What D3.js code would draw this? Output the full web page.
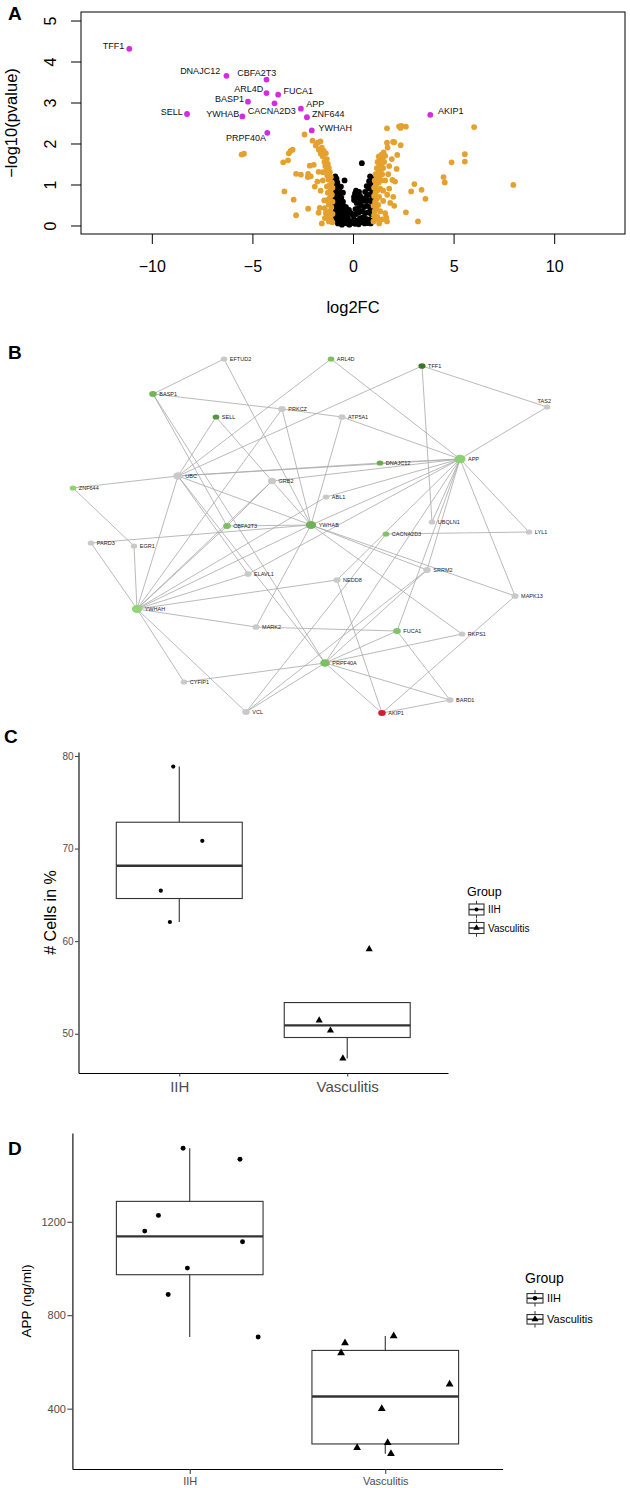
<!DOCTYPE html>
<html>
<head>
<meta charset="utf-8">
<script src="https://cdn.jsdelivr.net/npm/d3@7"></script>
<style>
  body { margin: 0; background: #fff; }
  text { font-family: "Liberation Sans", Arial, Helvetica, sans-serif; }
</style>
</head>
<body>
<svg id="fig" width="630" height="1488"></svg>
<script>
// ---------- panel A: volcano plot ----------
const sigGenes = ["TFF1", "DNAJC12", "CBFA2T3", "ARL4D", "FUCA1", "BASP1", "CACNA2D3", "APP",
    "SELL", "YWHAB", "ZNF644", "YWHAH", "PRPF40A", "AKIP1"];
const sigFC = [-11.12, -6.29, -4.30, -4.30, -3.72, -5.22, -3.90, -2.59, -8.25, -5.50, -2.29, -2.05, -4.26, 3.84];
const sigP = [4.31, 3.65, 3.56, 3.23, 3.19, 3.02, 2.98, 2.85, 2.72, 2.66, 2.64, 2.32, 2.26, 2.70];

// |log2FC| > 1 but not significant
const orangePts = [
    [-5.54, 1.73], [-5.42, 1.75],
    [-2.41, 2.22], [-2.01, 2.07], [-1.75, 2.02], [-1.62, 2.05], [-1.85, 1.95], [-1.55, 1.9], [-1.7, 1.85],
    [-1.45, 1.82], [-1.6, 1.75], [-1.35, 1.76], [-1.5, 1.68], [-1.3, 1.62], [-1.42, 1.55], [-1.25, 1.5],
    [-1.38, 1.45], [-1.2, 1.4], [-1.32, 1.35], [-1.15, 1.3], [-1.28, 1.22], [-1.1, 1.18], [-1.22, 1.12],
    [-1.05, 1.05], [-1.18, 0.98], [-1.02, 0.92], [-1.12, 0.85], [-1.25, 0.8], [-1.05, 0.75], [-1.15, 0.68],
    [-1.3, 0.62], [-1.02, 0.58], [-1.2, 0.52], [-1.08, 0.45], [-1.4, 0.42], [-1.15, 0.35], [-1.02, 0.28],
    [-1.25, 0.22], [-1.1, 0.15], [-1.2, 0.1], [-1.03, 0.08], [-1.35, 0.3],
    [-3.1, 1.82], [-3.0, 1.85], [-3.19, 1.76], [-3.47, 1.54], [-3.23, 1.59], [-2.83, 1.26], [-2.59, 1.24],
    [-2.15, 1.46], [-1.95, 1.48], [-2.23, 1.26], [-1.71, 1.31], [-2.25, 1.18], [-2.1, 1.2], [-3.41, 0.83],
    [-1.77, 1.07], [-1.61, 0.85], [-2.95, 0.63], [-2.23, 0.41], [-2.83, 0.25], [-1.65, 0.43], [-1.71, 0.31],
    [-1.43, 0.61], [-1.9, 0.95], [-1.5, 1.1], [-1.4, 0.18], [-1.55, 0.05], [-1.3, 0.95], [-1.5, 1.3],
    [1.02, 0.1], [1.1, 0.18], [1.05, 0.25], [1.2, 0.22], [1.08, 0.35], [1.15, 0.42], [1.02, 0.48], [1.25, 0.5],
    [1.1, 0.58], [1.18, 0.65], [1.05, 0.72], [1.3, 0.7], [1.12, 0.8], [1.22, 0.86], [1.05, 0.92], [1.35, 0.9],
    [1.15, 1.0], [1.28, 1.05], [1.08, 1.1], [1.4, 1.1], [1.2, 1.15], [1.32, 1.2], [1.12, 1.25], [1.45, 1.25],
    [1.25, 1.3], [1.38, 1.35], [1.18, 1.4], [1.5, 1.4], [1.3, 1.45], [1.42, 1.5], [1.22, 1.55], [1.55, 1.55],
    [1.35, 1.6], [1.48, 1.65], [1.28, 1.68], [1.6, 1.7], [1.4, 1.72], [1.52, 1.78], [1.35, 0.35], [1.5, 0.6],
    [1.45, 0.15], [1.6, 0.3], [1.3, 0.05], [1.5, 0.85], [1.6, 1.1], [1.25, 0.15],
    [1.69, 2.37], [2.29, 2.42], [2.36, 2.38], [2.63, 2.41], [2.41, 2.43], [1.69, 2.02], [1.99, 2.04],
    [2.05, 2.03], [2.37, 1.96], [1.93, 1.62], [2.17, 1.38], [1.96, 1.11], [2.09, 1.07], [3.05, 1.01],
    [2.89, 0.83], [3.41, 0.87], [3.6, 0.65], [2.63, 0.32], [3.23, 0.1], [1.69, 0.1], [2.05, 0.48],
    [4.5, 1.18], [4.56, 1.05], [4.9, 1.54], [5.56, 1.74], [5.56, 1.56], [6.02, 2.40], [7.97, 0.99],
    [1.8, 0.9], [1.75, 1.25], [2.0, 0.7], [1.85, 0.55], [1.7, 0.75], [1.65, 0.2], [1.8, 1.45], [2.2, 1.72],
    [1.72, 1.9]
];

// |log2FC| <= 1
const blackPts = [
    [-0.95, 1.08], [-0.88, 1.2], [-0.82, 1.14], [-0.9, 0.98], [-0.78, 1.05], [-0.72, 0.96], [-0.85, 0.9],
    [-0.95, 0.85], [-0.68, 0.88], [-0.8, 0.8], [-0.62, 0.78], [-0.9, 0.74], [-0.74, 0.7], [-0.58, 0.68],
    [-0.85, 0.64], [-0.66, 0.6], [-0.5, 0.58], [-0.78, 0.55], [-0.6, 0.5], [-0.9, 0.5], [-0.45, 0.47],
    [-0.7, 0.44], [-0.55, 0.4], [-0.84, 0.38], [-0.4, 0.36], [-0.65, 0.33], [-0.48, 0.3], [-0.78, 0.28],
    [-0.32, 0.28], [-0.58, 0.24], [-0.9, 0.2], [-0.42, 0.2], [-0.7, 0.18], [-0.25, 0.18], [-0.52, 0.14],
    [-0.82, 0.12], [-0.35, 0.12], [-0.62, 0.08], [-0.15, 0.1], [-0.45, 0.06], [-0.75, 0.05], [-0.28, 0.05],
    [-0.05, 0.06], [-0.55, 0.02], [-0.18, 0.02], [0.05, 0.15], [0.1, 0.04], [0.2, 0.12], [0.28, 0.03],
    [0.35, 0.18], [0.42, 0.08], [0.5, 0.2], [0.58, 0.05], [0.65, 0.16], [0.72, 0.06], [0.8, 0.14],
    [0.88, 0.05], [0.95, 0.12], [0.0, 0.25], [0.15, 0.28], [-0.1, 0.3], [0.3, 0.32], [0.45, 0.35],
    [0.6, 0.3], [0.75, 0.32], [0.9, 0.28], [0.55, 0.45], [0.7, 0.48], [0.85, 0.44], [0.4, 0.5],
    [0.62, 0.6], [0.78, 0.62], [0.92, 0.58], [0.5, 0.66], [0.7, 0.74], [0.86, 0.76], [0.6, 0.82],
    [0.95, 0.86], [0.78, 0.9], [0.68, 0.96], [0.88, 1.0], [0.8, 1.08], [0.92, 1.15], [0.85, 1.2],
    [0.44, 1.52], [-0.42, 1.1], [0.1, 0.78], [0.22, 0.68], [0.3, 0.82], [0.05, 0.62], [0.18, 0.55],
    [0.25, 0.42], [-0.2, 0.38], [0.12, 0.4], [0.38, 0.6], [-0.35, 0.45], [0.05, 0.7], [0.15, 0.85],
    [0.35, 0.72], [-0.96, 0.3], [-0.98, 0.6], [0.98, 0.4], [0.98, 0.7], [-0.6, 0.95], [-0.5, 0.8]
];

const volcanoXTicks = [-10, -5, 0, 5, 10];
const volcanoYTicks = [0, 1, 2, 3, 4, 5];

// ---------- panel B: network ----------
// [name, layout x, layout y]
const netNodes = [
    ["EFTUD2", 154, 4], ["ARL4D", 261, 4], ["TFF1", 352, 11], ["BASP1", 83, 39], ["TAS2", 477, 52],
    ["PRKCZ", 212, 54], ["SELL", 146, 62], ["ATP5A1", 272, 62], ["APP", 390, 104], ["DNAJC12", 310, 108],
    ["UBC", 108, 121], ["GRB2", 202, 126], ["ZNF644", 3, 133], ["ABL1", 256, 142], ["UBQLN1", 362, 167],
    ["YWHAB", 241, 170], ["CBFA2T3", 157, 171], ["LYL1", 459, 177], ["CACNA2D3", 316, 179], ["PARD3", 21, 188],
    ["EGR1", 64, 191], ["SRRM2", 357, 215], ["ELAVL1", 178, 219], ["NEDD8", 267, 225], ["MAPK13", 445, 241],
    ["YWHAH", 67, 254], ["MARK2", 186, 272], ["FUCA1", 327, 276], ["RKPS1", 392, 279], ["PRPF40A", 255, 308],
    ["CYFIP1", 114, 327], ["BARD1", 380, 345], ["VCL", 176, 357], ["AKIP1", 312, 358]
];
const netEdges = [
    ["EFTUD2", "BASP1"], ["EFTUD2", "YWHAB"], ["ARL4D", "UBC"], ["ARL4D", "APP"],
    ["TFF1", "TAS2"], ["TFF1", "UBQLN1"], ["TFF1", "UBC"], ["BASP1", "PRKCZ"], ["PRKCZ", "ATP5A1"],
    ["BASP1", "CBFA2T3"], ["BASP1", "PRPF40A"], ["SELL", "UBC"], ["SELL", "GRB2"], ["GRB2", "YWHAB"],
    ["TAS2", "APP"], ["ATP5A1", "APP"], ["ATP5A1", "YWHAB"], ["PRKCZ", "YWHAB"], ["PRKCZ", "YWHAH"],
    ["UBC", "ZNF644"], ["UBC", "APP"], ["UBC", "DNAJC12"], ["UBC", "YWHAB"], ["UBC", "YWHAH"],
    ["UBC", "PRPF40A"], ["UBC", "ELAVL1"], ["GRB2", "APP"], ["GRB2", "YWHAH"], ["ZNF644", "EGR1"],
    ["DNAJC12", "APP"], ["ABL1", "APP"], ["ABL1", "YWHAH"], ["YWHAB", "APP"], ["YWHAB", "CBFA2T3"],
    ["YWHAB", "PARD3"], ["YWHAB", "SRRM2"], ["YWHAB", "MAPK13"], ["YWHAB", "RKPS1"], ["YWHAB", "MARK2"],
    ["YWHAB", "YWHAH"], ["CBFA2T3", "GRB2"], ["CBFA2T3", "YWHAH"], ["CACNA2D3", "LYL1"], ["CACNA2D3", "VCL"],
    ["APP", "LYL1"], ["APP", "MAPK13"], ["APP", "SRRM2"], ["APP", "FUCA1"], ["APP", "PRPF40A"],
    ["APP", "UBQLN1"], ["APP", "NEDD8"], ["SRRM2", "PRPF40A"], ["SRRM2", "VCL"], ["NEDD8", "YWHAH"],
    ["NEDD8", "AKIP1"], ["MAPK13", "AKIP1"], ["YWHAH", "PARD3"], ["YWHAH", "EGR1"], ["YWHAH", "ELAVL1"],
    ["YWHAH", "MARK2"], ["YWHAH", "CYFIP1"], ["YWHAH", "VCL"], ["MARK2", "FUCA1"], ["FUCA1", "PRPF40A"],
    ["FUCA1", "BARD1"], ["RKPS1", "PRPF40A"], ["PRPF40A", "CYFIP1"], ["PRPF40A", "VCL"], ["PRPF40A", "BARD1"],
    ["PRPF40A", "AKIP1"], ["BARD1", "AKIP1"], ["ELAVL1", "APP"]
];

// ---------- panels C and D: boxplots ----------
const groups = ["IIH", "Vasculitis"];
const cellsIIH = [78.85, 70.84, 65.45, 62.07];
const cellsVasc = [51.45, 50.35, 47.34, 59.13];
const cellsJitterIIH = [-0.036, 0.137, -0.11, -0.056];
const cellsJitterVasc = [-0.167, -0.10, -0.026, 0.131];
const cellsTicks = [50, 60, 70, 80];

const appIIH = [1514.6, 1467.4, 1227.3, 1160.1, 1114.3, 1001.6, 888.9, 707.0];
const appVasc = [711.4, 681.4, 638.6, 504.3, 400.0, 254.3, 232.9, 207.1];
const appJitterIIH = [-0.034, 0.257, -0.16, -0.23, 0.27, -0.012, -0.11, 0.35];
const appJitterVasc = [0.043, -0.206, -0.226, 0.329, -0.018, 0.012, -0.144, 0.029];
const appTicks = [400, 800, 1200];

// ================================================================
const svg = d3.select("#fig");
svg.append("rect").attr("width", 630).attr("height", 1488).attr("fill", "#fff");

function panelLetter(txt, x, y) {
    svg.append("text").attr("x", x).attr("y", y).text(txt)
        .attr("font-size", 19).attr("font-weight", "bold").attr("fill", "#000");
}

// ---------- A ----------
const gA = svg.append("g");
const xA = d3.scaleLinear().domain([-13.52, 13.52]).range([81, 625]);
const yA = d3.scaleLinear().domain([-0.208, 5.208]).range([234, 12]);

gA.selectAll("circle.bk").data(blackPts).join("circle").attr("class", "bk")
    .attr("cx", d => xA(d[0])).attr("cy", d => yA(d[1])).attr("r", 2.9).attr("fill", "#000");
gA.selectAll("circle.or").data(orangePts).join("circle").attr("class", "or")
    .attr("cx", d => xA(d[0])).attr("cy", d => yA(d[1])).attr("r", 2.9).attr("fill", "#e5a12e");
gA.selectAll("circle.sig").data(sigGenes).join("circle").attr("class", "sig")
    .attr("cx", (d, i) => xA(sigFC[i])).attr("cy", (d, i) => yA(sigP[i])).attr("r", 2.9).attr("fill", "#d42be2");

//  where each gene label sits, relative to its point
const labelPlace = {
    TFF1: ["end", -5, -2.7], DNAJC12: ["end", -6.3, -5.3], CBFA2T3: ["middle", -9.7, -6.3],
    ARL4D: ["end", -3.3, -4], FUCA1: ["start", 5.3, -4.3], BASP1: ["end", -4, -2.7],
    CACNA2D3: ["middle", -2.7, 7.7], APP: ["start", 5.3, -5.3], ZNF644: ["start", 5, -3.3],
    YWHAH: ["start", 6.7, -2.7], SELL: ["end", -4.3, -1.7], YWHAB: ["end", -3, -2.3],
    PRPF40A: ["end", -1.3, 5.3], AKIP1: ["start", 7.7, -4]
};
gA.selectAll("text.gl").data(sigGenes).join("text").attr("class", "gl")
    .attr("x", (d, i) => xA(sigFC[i]) + labelPlace[d][1])
    .attr("y", (d, i) => yA(sigP[i]) + labelPlace[d][2])
    .attr("dy", "0.35em").attr("text-anchor", d => labelPlace[d][0])
    .attr("font-size", 9).attr("fill", "#111").text(d => d);

gA.append("rect").attr("x", 81).attr("y", 12).attr("width", 544).attr("height", 222)
    .attr("fill", "none").attr("stroke", "#000").attr("stroke-width", 1);

const axAx = gA.append("g").attr("transform", "translate(0,234)")
    .call(d3.axisBottom(xA).tickValues(volcanoXTicks).tickSize(10).tickPadding(17)
        .tickFormat(d => d < 0 ? "\u2212" + (-d) : String(d)));
axAx.select(".domain").remove();
axAx.selectAll("line").attr("stroke", "#000");
axAx.selectAll("text").attr("font-size", 16).attr("fill", "#000").attr("font-family", null);

const axAy = gA.append("g").attr("transform", "translate(81,0)")
    .call(d3.axisLeft(yA).tickValues(volcanoYTicks).tickSize(10).tickFormat(d3.format("d")));
axAy.select(".domain").remove();
axAy.selectAll("line").attr("stroke", "#000");
axAy.selectAll("text").attr("x", null).attr("dy", null)
    .attr("transform", "translate(-25,0) rotate(-90)").attr("text-anchor", "middle")
    .attr("font-size", 16).attr("fill", "#000").attr("font-family", null);

gA.append("text").attr("transform", "translate(16.5,123) rotate(-90)").attr("text-anchor", "middle")
    .attr("font-size", 16.5).text("\u2212log10(pvalue)");
gA.append("text").attr("x", 353).attr("y", 313).attr("text-anchor", "middle")
    .attr("font-size", 16.5).text("log2FC");
panelLetter("A", 8, 20);

// ---------- B ----------
const gB = svg.append("g");
const xB = d3.scaleLinear().domain([0, 480]).range([70, 550]);
const yB = d3.scaleLinear().domain([0, 360]).range([355, 715]);
const nodeByName = new Map(netNodes.map(n => [n[0], n]));
const degree = new Map(netNodes.map(n => [n[0], 0]));
netEdges.forEach(e => { degree.set(e[0], degree.get(e[0]) + 1); degree.set(e[1], degree.get(e[1]) + 1); });
const fcByGene = new Map(sigGenes.map((g, i) => [g, sigFC[i]]));
const greenScale = d3.scaleLinear().domain([-11.1, -2.0]).range(["#3b7826", "#92d676"]);
const sizeScale = d3.scaleSqrt().domain([1, 16]).range([2.6, 4.8]).clamp(true);

function nodeColor(name) {
    if (!fcByGene.has(name)) return "#c9c9c9";
    const fc = fcByGene.get(name);
    return fc > 0 ? "#d0202f" : greenScale(fc);
}

gB.selectAll("line").data(netEdges).join("line")
    .attr("x1", d => xB(nodeByName.get(d[0])[1])).attr("y1", d => yB(nodeByName.get(d[0])[2]))
    .attr("x2", d => xB(nodeByName.get(d[1])[1])).attr("y2", d => yB(nodeByName.get(d[1])[2]))
    .attr("stroke", "#a8a8a8").attr("stroke-width", 0.8);

gB.selectAll("ellipse").data(netNodes).join("ellipse")
    .attr("cx", d => xB(d[1])).attr("cy", d => yB(d[2]))
    .attr("rx", d => sizeScale(degree.get(d[0])) * 1.15).attr("ry", d => sizeScale(degree.get(d[0])) * 0.9)
    .attr("fill", d => nodeColor(d[0]));

gB.selectAll("text.nl").data(netNodes).join("text").attr("class", "nl")
    .attr("x", d => d[0] === "TAS2" ? xB(d[1]) - 2.7 : xB(d[1]) + sizeScale(degree.get(d[0])) * 1.15 + 2.5)
    .attr("y", d => d[0] === "TAS2" ? yB(d[2]) - 5.7 : yB(d[2]))
    .attr("dy", "0.35em").attr("text-anchor", d => d[0] === "TAS2" ? "middle" : "start")
    .attr("font-size", 5.5).attr("fill", "#222").text(d => d[0]);
panelLetter("B", 8, 359);

// ---------- C and D ----------
function boxPanel(opt) {
    const g = svg.append("g");
    const all = opt.values.flat();
    const lo = d3.min(all), hi = d3.max(all), pad = (hi - lo) * 0.05;
    const x = d3.scaleLinear().domain([0.4, 2.6]).range([opt.left, opt.right]);
    const y = d3.scaleLinear().domain([lo - pad, hi + pad]).range([opt.bottom, opt.top]);

    opt.values.forEach((vals, gi) => {
        const c = gi + 1;
        const s = vals.slice().sort(d3.ascending);
        const q1 = d3.quantile(s, 0.25), med = d3.quantile(s, 0.5), q3 = d3.quantile(s, 0.75);
        const iqr = q3 - q1;
        const wLo = d3.min(s.filter(v => v >= q1 - 1.5 * iqr));
        const wHi = d3.max(s.filter(v => v <= q3 + 1.5 * iqr));
        if (wHi > q3) g.append("line").attr("x1", x(c)).attr("x2", x(c)).attr("y1", y(q3)).attr("y2", y(wHi))
            .attr("stroke", "#333").attr("stroke-width", 1.1);
        if (wLo < q1) g.append("line").attr("x1", x(c)).attr("x2", x(c)).attr("y1", y(q1)).attr("y2", y(wLo))
            .attr("stroke", "#333").attr("stroke-width", 1.1);
        g.append("rect").attr("x", x(c - 0.375)).attr("width", x(c + 0.375) - x(c - 0.375))
            .attr("y", y(q3)).attr("height", y(q1) - y(q3))
            .attr("fill", "#fff").attr("stroke", "#333").attr("stroke-width", 1.1);
        g.append("line").attr("x1", x(c - 0.375)).attr("x2", x(c + 0.375)).attr("y1", y(med)).attr("y2", y(med))
            .attr("stroke", "#333").attr("stroke-width", 2.3);

        const sym = gi === 0 ? d3.symbolCircle : d3.symbolTriangle;
        g.selectAll(null).data(vals).join("path")
            .attr("d", d3.symbol(sym, gi === 0 ? opt.dotArea : opt.triArea))
            .attr("transform", (v, i) => `translate(${x(c + opt.jitter[gi][i])},${y(v)})`)
            .attr("fill", "#000");
    });

    const ay = g.append("g").attr("transform", `translate(${opt.left},0)`)
        .call(d3.axisLeft(y).tickValues(opt.ticks).tickFormat(d3.format("d"))
            .tickSize(opt.tick).tickSizeOuter(0).tickPadding(1.5));
    ay.select(".domain").attr("stroke", "#000").attr("stroke-width", 1.1);
    ay.selectAll("line").attr("stroke", "#333");
    ay.selectAll("text").attr("font-size", opt.tickFont).attr("fill", "#4d4d4d").attr("font-family", null);

    const ax = g.append("g").attr("transform", `translate(0,${opt.bottom})`)
        .call(d3.axisBottom(x).tickValues([1, 2]).tickFormat(i => groups[i - 1])
            .tickSize(opt.tick).tickSizeOuter(0).tickPadding(opt.xPad));
    ax.select(".domain").attr("stroke", "#000").attr("stroke-width", 1.1);
    ax.selectAll("line").attr("stroke", "#333");
    ax.selectAll("text").attr("font-size", opt.xFont).attr("fill", "#4d4d4d").attr("font-family", null);

    g.append("text").attr("transform", `translate(${opt.titleX},${(opt.top + opt.bottom) / 2}) rotate(-90)`)
        .attr("text-anchor", "middle").attr("font-size", opt.titleFont).attr("fill", "#000").text(opt.title);

    // legend
    const L = opt.legend;
    g.append("text").attr("x", L.x).attr("y", L.titleY).attr("dy", "0.35em")
        .attr("font-size", L.titleFont).text("Group");
    groups.forEach((name, gi) => {
        const cy = L.keyY[gi], cx = L.x + 2 + L.kw / 2;
        g.append("line").attr("x1", cx).attr("x2", cx).attr("y1", cy - L.wh / 2).attr("y2", cy + L.wh / 2)
            .attr("stroke", "#333").attr("stroke-width", 1);
        g.append("rect").attr("x", cx - L.kw / 2).attr("y", cy - L.kh / 2).attr("width", L.kw).attr("height", L.kh)
            .attr("fill", "#fff").attr("stroke", "#333").attr("stroke-width", 1.1);
        g.append("line").attr("x1", cx - L.kw / 2).attr("x2", cx + L.kw / 2).attr("y1", cy).attr("y2", cy)
            .attr("stroke", "#333").attr("stroke-width", 1.6);
        g.append("path").attr("d", d3.symbol(gi === 0 ? d3.symbolCircle : d3.symbolTriangle,
            gi === 0 ? opt.dotArea * 0.8 : opt.triArea * 0.8)())
            .attr("transform", `translate(${cx},${cy})`).attr("fill", "#000");
        g.append("text").attr("x", L.x + L.kw + 6).attr("y", cy).attr("dy", "0.35em")
            .attr("font-size", L.labFont).text(name);
    });
}

boxPanel({
    values: [cellsIIH, cellsVasc], jitter: [cellsJitterIIH, cellsJitterVasc], ticks: cellsTicks,
    left: 78.5, right: 448, top: 752, bottom: 1073, tick: 3.5, tickFont: 10, xFont: 15, xPad: 5,
    title: "# Cells in %", titleX: 56, titleFont: 16, dotArea: 14, triArea: 22,
    legend: { x: 467, titleY: 891.5, titleFont: 12.5, labFont: 10, keyY: [909.5, 928], kw: 15, kh: 11, wh: 17.5 }
});
boxPanel({
    values: [appIIH, appVasc], jitter: [appJitterIIH, appJitterVasc], ticks: appTicks,
    left: 72.4, right: 502.6, top: 1133, bottom: 1469, tick: 5, tickFont: 11, xFont: 11, xPad: 3,
    title: "APP (ng/ml)", titleX: 31, titleFont: 13.6, dotArea: 19, triArea: 26,
    legend: { x: 525, titleY: 1278.3, titleFont: 14, labFont: 11, keyY: [1298.3, 1319.3], kw: 16, kh: 9.5, wh: 16.5 }
});
panelLetter("C", 4, 743);
panelLetter("D", 8, 1155);
</script>
</body>
</html>
